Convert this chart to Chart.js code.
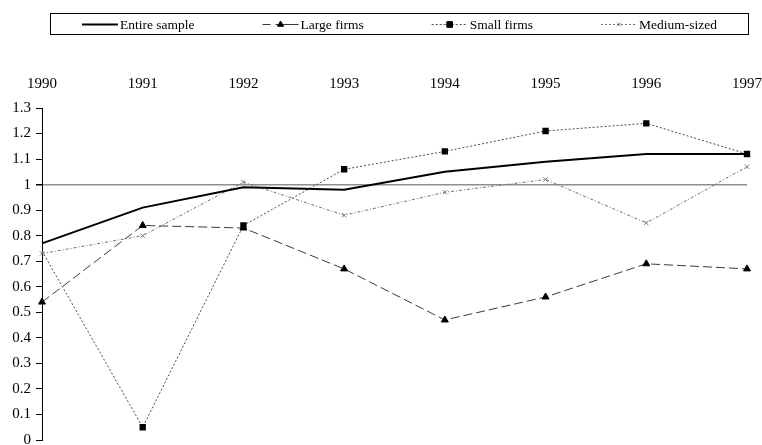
<!DOCTYPE html>
<html>
<head>
<meta charset="utf-8">
<script src="https://cdn.jsdelivr.net/npm/chart.js@4/dist/chart.umd.min.js"></script>
<style>
  html, body { margin: 0; padding: 0; background: #fff; }
  #wrap { width: 762px; height: 445px; }
</style>
</head>
<body>
<div id="wrap"><canvas id="c" width="762" height="445"></canvas></div>
<script>
const years = ['1990', '1991', '1992', '1993', '1994', '1995', '1996', '1997'];
const entireSample = [0.77, 0.91, 0.99, 0.98, 1.05, 1.09, 1.12, 1.12];
const largeFirms   = [0.54, 0.84, 0.83, 0.67, 0.47, 0.56, 0.69, 0.67];
const smallFirms   = [0.74, 0.05, 0.84, 1.06, 1.13, 1.21, 1.24, 1.12];
const mediumSized  = [0.73, 0.80, 1.01, 0.88, 0.97, 1.02, 0.85, 1.07];
const seriesNames  = ['Entire sample', 'Large firms', 'Small firms', 'Medium-sized'];
const yTicksMin = 0, yTicksMax = 1.3, yStep = 0.1;
const referenceValue = 1;

const FONT = "'Liberation Serif', 'Times New Roman', serif";

const boxLegend = {
  id: 'boxLegend',
  afterDraw(chart) {
    const ctx = chart.ctx;
    const left = 50.5, right = 748.5, top = 13.5, bottom = 34.5;
    const cy = (top + bottom) / 2;
    ctx.save();
    ctx.strokeStyle = '#000';
    ctx.lineWidth = 1;
    ctx.setLineDash([]);
    ctx.strokeRect(left, top, right - left, bottom - top);
    ctx.font = '13.5px ' + FONT;
    const lineLen = 36, textGap = 2, itemGap = 68;
    const ds = chart.data.datasets;
    const widths = ds.map(d => lineLen + textGap + ctx.measureText(d.label).width);
    const total = widths.reduce((a, b) => a + b, 0) + itemGap * (ds.length - 1);
    let x = (left + right) / 2 - total / 2;
    ds.forEach((d, i) => {
      ctx.save();
      ctx.strokeStyle = d.borderColor;
      ctx.lineWidth = d.borderWidth;
      ctx.setLineDash(d.legendDash || d.borderDash || []);
      ctx.beginPath();
      ctx.moveTo(x, Math.round(cy) + 0.5);
      ctx.lineTo(x + lineLen, Math.round(cy) + 0.5);
      ctx.stroke();
      ctx.restore();
      if (d.legendPointStyle) {
        ctx.save();
        ctx.fillStyle = d.pointBackgroundColor;
        ctx.strokeStyle = d.pointBorderColor;
        ctx.lineWidth = 1;
        ctx.setLineDash([]);
        Chart.helpers.drawPoint(ctx, { pointStyle: d.legendPointStyle, rotation: 0, radius: d.legendPointRadius, borderWidth: 1 }, x + lineLen / 2, Math.round(cy) + 0.5);
        ctx.restore();
      }
      ctx.fillStyle = '#000';
      ctx.textBaseline = 'middle';
      ctx.textAlign = 'left';
      ctx.fillText(d.label, x + lineLen + textGap, cy + 1);
      x += widths[i] + itemGap;
    });
    ctx.restore();
  }
};

new Chart(document.getElementById('c'), {
  type: 'line',
  data: {
    labels: years,
    datasets: [
      {
        label: seriesNames[0],
        data: entireSample,
        borderColor: '#000',
        borderWidth: 2,
        pointRadius: 0,
        pointHoverRadius: 0,
        tension: 0,
        order: 0
      },
      {
        label: seriesNames[1],
        data: largeFirms,
        borderColor: '#3a3a3a',
        borderWidth: 1,
        borderDash: [9, 4],
        legendDash: [8, 5, 23, 0],
        pointStyle: 'triangle',
        pointRadius: 4,
        pointBackgroundColor: '#000',
        pointBorderColor: '#000',
        pointBorderWidth: 1,
        legendPointStyle: 'triangle',
        legendPointRadius: 3.5,
        tension: 0,
        order: 1
      },
      {
        label: seriesNames[2],
        data: smallFirms,
        borderColor: '#4a4a4a',
        borderWidth: 1,
        borderDash: [2, 2],
        pointStyle: 'rect',
        pointRadius: (c) => c.dataIndex === 0 ? 0 : 4.5,
        pointBackgroundColor: '#000',
        pointBorderColor: '#000',
        pointBorderWidth: 0,
        legendPointStyle: 'rect',
        legendPointRadius: 4,
        tension: 0,
        order: 2
      },
      {
        label: seriesNames[3],
        data: mediumSized,
        borderColor: '#6e6e6e',
        borderWidth: 1,
        borderDash: [3, 2, 1, 2],
        legendDash: [2, 2],
        pointStyle: 'crossRot',
        pointRadius: 3,
        pointBackgroundColor: '#777',
        pointBorderColor: '#777',
        pointBorderWidth: 1,
        legendPointStyle: 'crossRot',
        legendPointRadius: 2.5,
        tension: 0,
        order: 3
      }
    ]
  },
  options: {
    responsive: false,
    animation: false,
    events: [],
    layout: { padding: { top: 60, right: 15, bottom: 4, left: 0 } },
    plugins: {
      legend: { display: false },
      tooltip: { enabled: false },
      title: { display: false }
    },
    scales: {
      x: {
        position: 'top',
        offset: false,
        grid: { display: false, drawTicks: false },
        border: { display: false },
        ticks: {
          color: '#000',
          font: { family: FONT, size: 15 },
          padding: 15,
          maxRotation: 0,
          autoSkip: false
        },
        afterFit(s) { s.paddingLeft = 0; s.paddingRight = 0; }
      },
      y: {
        min: yTicksMin,
        max: yTicksMax,
        ticks: {
          stepSize: yStep,
          color: '#000',
          font: { family: FONT, size: 15 },
          padding: 5,
          callback: (v) => String(Math.round(v * 10) / 10)
        },
        grid: {
          drawOnChartArea: true,
          drawTicks: true,
          tickLength: 6,
          tickColor: '#000',
          color: (c) => (c.tick && Math.abs(c.tick.value - referenceValue) < 1e-9) ? '#8f8f8f' : 'rgba(0,0,0,0)',
          lineWidth: (c) => (c.tick && Math.abs(c.tick.value - referenceValue) < 1e-9) ? 1.5 : 1
        },
        border: { display: true, color: '#000', width: 1 },
        afterFit(s) { s.width = 42; s.paddingTop = 0; s.paddingBottom = 0; }
      }
    }
  },
  plugins: [boxLegend]
});
</script>
</body>
</html>
